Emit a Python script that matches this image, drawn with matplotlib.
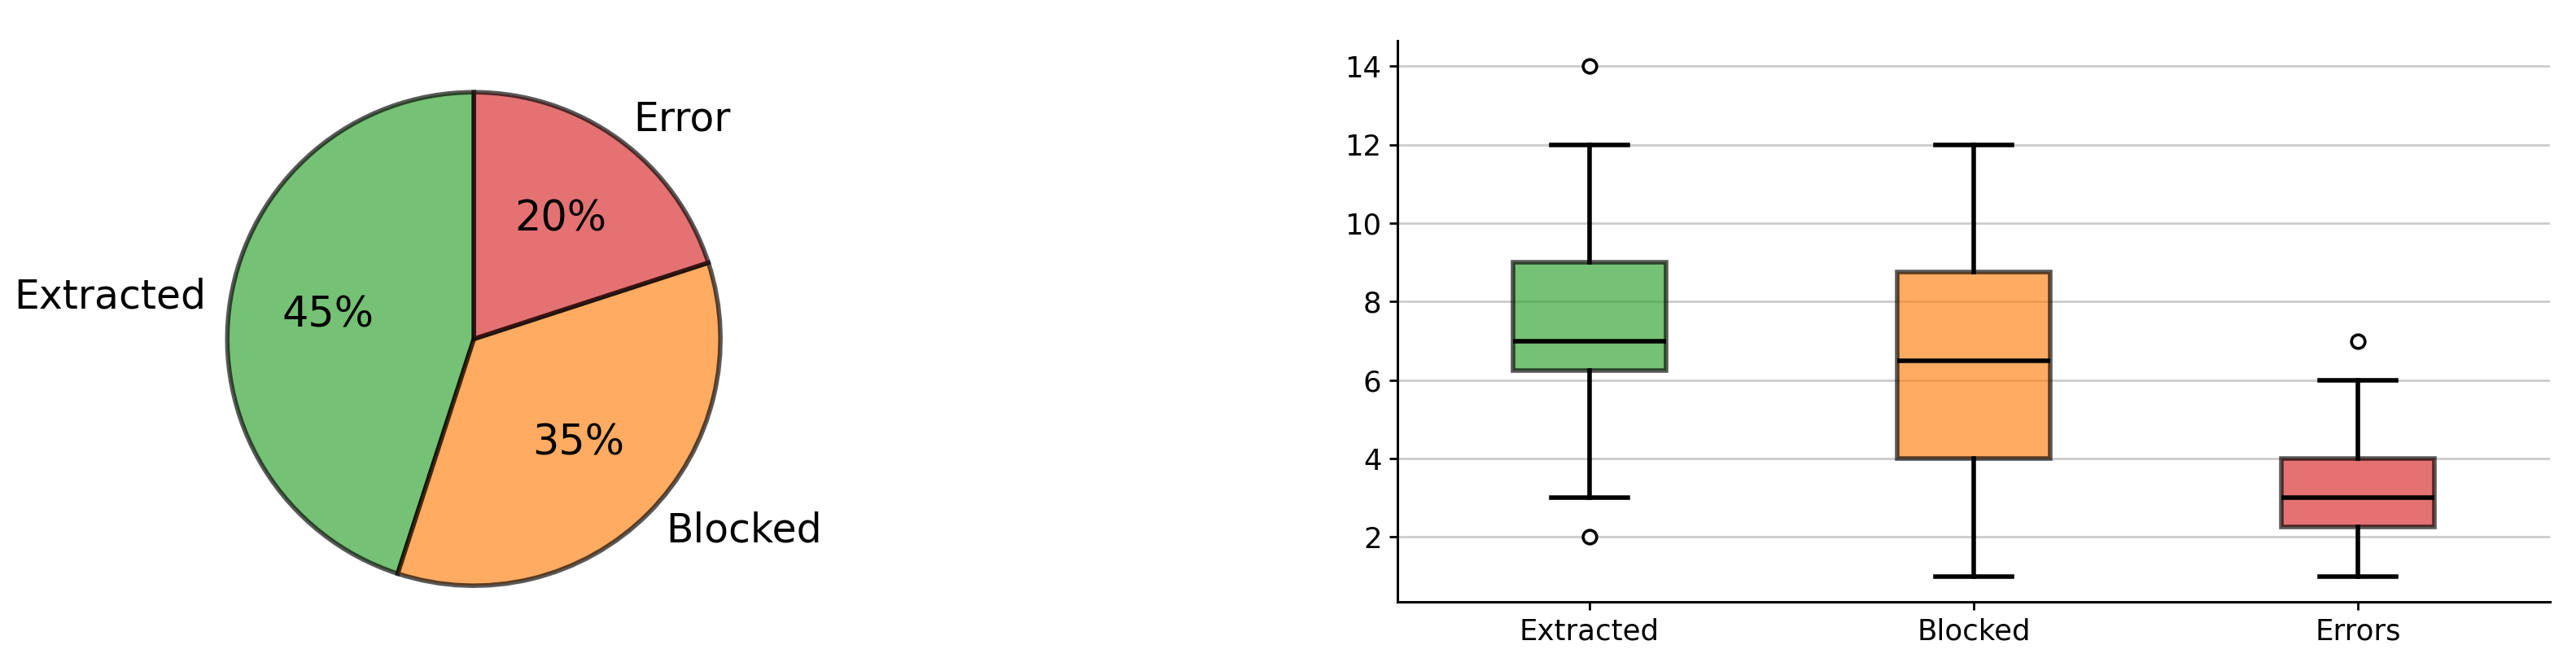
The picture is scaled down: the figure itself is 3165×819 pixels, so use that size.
import matplotlib
matplotlib.use("Agg")
import matplotlib.pyplot as plt

# Pie data
pie_labels = ["Extracted", "Blocked", "Error"]
pie_values = [45, 35, 20]
pie_colors = ["tab:green", "tab:orange", "tab:red"]

# Box plot data (summary statistics)
box_labels = ["Extracted", "Blocked", "Errors"]
box_q1 = [6.25, 4.0, 2.25]
box_med = [7.0, 6.5, 3.0]
box_q3 = [9.0, 8.75, 4.0]
box_whislo = [3.0, 1.0, 1.0]
box_whishi = [12.0, 12.0, 6.0]
box_fliers = [[2.0, 14.0], [], [7.0]]

DPI = 200
fig = plt.figure(figsize=(3165 / DPI, 819 / DPI), dpi=DPI)

# ---- Pie ----
ax1 = fig.add_axes([0.0643, 0.0293, 0.2393, 0.925])
wedges, texts, autotexts = ax1.pie(
    pie_values, labels=pie_labels, colors=pie_colors, startangle=90,
    autopct="%1.0f%%",
    wedgeprops={"edgecolor": "black", "linewidth": 2, "alpha": 0.65},
    textprops={"fontsize": 17.6},
)
for t in autotexts:
    t.set_fontsize(18.3)
ax1.set_aspect("equal")

# ---- Box plot ----
ax2 = fig.add_axes([0.5425, 0.0977, 0.4474, 0.8413])
stats = []
for i in range(len(box_labels)):
    stats.append({
        "label": box_labels[i],
        "q1": box_q1[i], "med": box_med[i], "q3": box_q3[i],
        "whislo": box_whislo[i], "whishi": box_whishi[i],
        "fliers": box_fliers[i],
    })
bp = ax2.bxp(
    stats, patch_artist=True, widths=0.4,
    boxprops={"linewidth": 2, "edgecolor": "black"},
    whiskerprops={"linewidth": 2, "color": "black"},
    capprops={"linewidth": 2, "color": "black"},
    medianprops={"linewidth": 2, "color": "black"},
    flierprops={"marker": "o", "markerfacecolor": "white",
                "markeredgecolor": "black", "markersize": 6,
                "markeredgewidth": 1.3},
)
for patch, c in zip(bp["boxes"], pie_colors):
    patch.set_facecolor(c)
    patch.set_alpha(0.65)

ax2.grid(axis="y", color="gray", alpha=0.4, linewidth=1)
ax2.set_yticks([2, 4, 6, 8, 10, 12, 14])
ax2.spines["top"].set_visible(False)
ax2.spines["right"].set_visible(False)
for s in ("left", "bottom"):
    ax2.spines[s].set_linewidth(1.1)
ax2.tick_params(labelsize=12.8, width=1.0)

fig.savefig("out.png", dpi=DPI)
